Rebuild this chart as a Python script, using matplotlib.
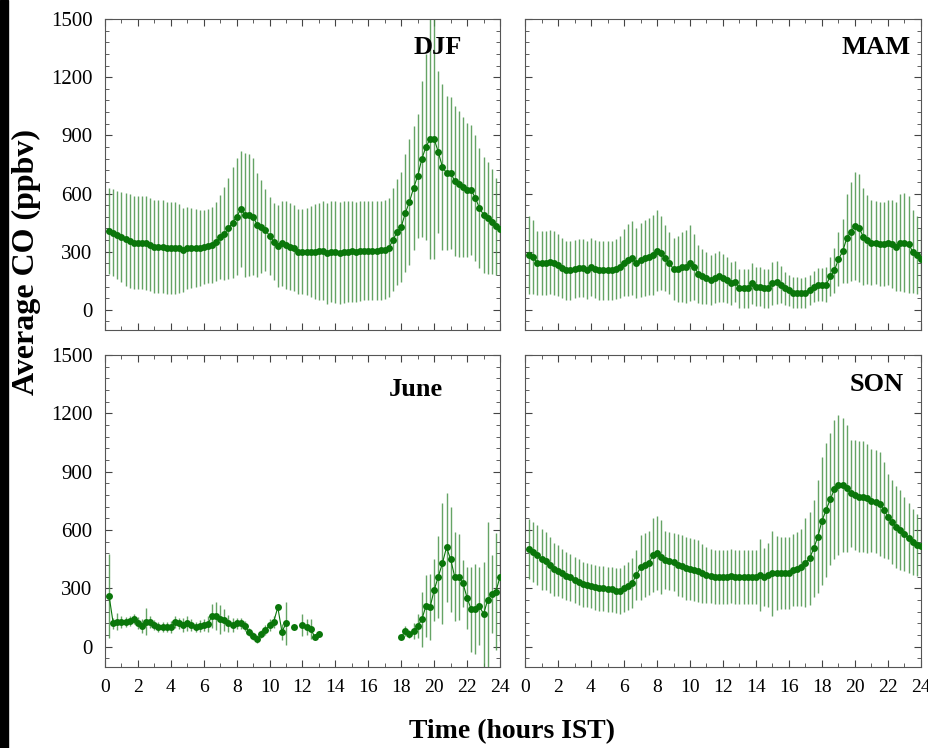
import numpy as np
import matplotlib
matplotlib.use("Agg")
import matplotlib.pyplot as plt
from matplotlib.ticker import MultipleLocator
from matplotlib.patches import Rectangle

nan = np.nan

# time axis: 15-minute steps (hours IST)
hours = np.arange(1, 97) * 0.25

djf_mean = [407, 398, 387, 375, 364, 356, 347, 347, 347, 344, 335, 326,
            326, 326, 318, 318, 318, 318, 309, 318, 318, 318, 318, 323,
            330, 335, 352, 375, 392, 421, 450, 481, 519, 490, 490, 481,
            438, 429, 412, 381, 352, 330, 343, 335, 326, 318, 300, 300,
            300, 300, 300, 302, 305, 292, 300, 298, 292, 298, 300, 302,
            300, 302, 305, 305, 306, 306, 308, 310, 320, 361, 402, 428,
            500, 557, 629, 690, 778, 840, 881, 881, 814, 737, 706, 706,
            665, 649, 634, 618, 618, 577, 526, 490, 474, 454, 430, 416]
djf_sd = [221, 225, 228, 232, 240, 242, 242, 242, 242, 242, 240, 240,
          240, 238, 238, 238, 236, 230, 215, 210, 205, 200, 195, 190,
          190, 195, 205, 215, 240, 260, 285, 300, 300, 320, 315, 300,
          270, 240, 210, 200, 200, 210, 220, 225, 225, 222, 220, 220,
          225, 235, 245, 250, 255, 260, 262, 262, 262, 262, 260, 260,
          258, 258, 255, 255, 255, 255, 255, 255, 255, 265, 275, 285,
          305, 325, 320, 320, 400, 480, 620, 620, 420, 430, 395, 390,
          385, 375, 360, 345, 335, 325, 310, 300, 290, 270, 250, 235]

mam_mean = [283, 271, 241, 241, 241, 249, 241, 232, 215, 203, 203, 210,
            215, 215, 206, 220, 210, 203, 203, 203, 203, 210, 223, 244,
            258, 266, 241, 258, 266, 275, 283, 306, 292, 266, 241, 210,
            210, 220, 223, 241, 223, 186, 172, 163, 155, 163, 172, 163,
            155, 137, 146, 112, 112, 112, 137, 120, 120, 112, 112, 137,
            141, 129, 112, 100, 89, 89, 86, 89, 103, 120, 129, 129,
            129, 172, 203, 261, 301, 369, 404, 433, 421, 378, 361, 347,
            347, 339, 339, 347, 339, 326, 347, 347, 339, 300, 283, 261]
mam_sd = [200, 190, 165, 165, 165, 165, 165, 160, 155, 150, 150, 150,
          150, 150, 150, 150, 150, 150, 150, 150, 150, 155, 160, 175,
          185, 190, 180, 190, 195, 200, 205, 210, 190, 170, 160, 160,
          170, 180, 190, 195, 170, 150, 140, 135, 130, 130, 130, 125,
          120, 110, 105, 100, 100, 100, 105, 100, 100, 100, 100, 110,
          110, 95, 85, 80, 80, 78, 78, 78, 78, 80, 85, 85,
          90, 100, 115, 140, 165, 230, 255, 280, 280, 250, 230, 220,
          215, 215, 215, 220, 225, 230, 250, 255, 250, 215, 200, 160]

june_mean = [261, 120, 129, 129, 129, 134, 141, 123, 106, 129, 129, 112,
             100, 100, 100, 100, 129, 120, 112, 120, 112, 100, 106, 112,
             117, 158, 158, 141, 137, 120, 112, 120, 120, 106, 77, 55,
             38, 65, 86, 112, 129, 203, 77, 120, nan, 100, nan, 112,
             103, 91, 50, 68, nan, nan, nan, nan, nan, nan, nan, nan,
             nan, nan, nan, nan, nan, nan, nan, nan, nan, nan, nan, 51,
             81, 64, 81, 106, 141, 209, 203, 292, 360, 429, 511, 450,
             360, 360, 326, 252, 192, 195, 209, 168, 240, 270, 283, 360]
june_sd = [215, 30, 45, 30, 25, 25, 25, 30, 35, 68, 30, 25,
           25, 25, 25, 30, 30, 30, 35, 40, 30, 25, 30, 30,
           40, 60, 70, 75, 55, 45, 35, 30, 30, 25, 20, 20,
           20, 20, 25, 30, 30, 10, 40, 112, nan, 10, nan, 55,
           40, 50, 15, 15, nan, nan, nan, nan, nan, nan, nan, nan,
           nan, nan, nan, nan, nan, nan, nan, nan, nan, nan, nan, 10,
           25, 20, 40, 60, 140, 160, 170, 160, 210, 310, 280, 270,
           230, 220, 120, 160, 220, 230, 200, 270, 400, 200, 300, 330]

son_mean = [501, 489, 471, 449, 442, 420, 398, 391, 377, 363, 357, 343,
            334, 322, 317, 312, 305, 300, 300, 295, 295, 288, 288, 300,
            312, 329, 369, 408, 420, 429, 471, 483, 463, 446, 441, 437,
            420, 415, 403, 398, 394, 391, 377, 369, 363, 360, 360, 360,
            360, 363, 360, 360, 360, 360, 360, 360, 369, 360, 369, 377,
            381, 381, 377, 381, 394, 398, 408, 432, 454, 506, 566, 648,
            703, 758, 809, 831, 831, 814, 789, 780, 771, 771, 763, 751,
            746, 734, 703, 669, 643, 617, 600, 579, 557, 540, 523, 518]
son_sd = [154, 155, 155, 155, 150, 145, 135, 130, 125, 125, 120, 120,
          118, 116, 115, 115, 115, 115, 115, 115, 115, 115, 118, 120,
          125, 128, 130, 165, 165, 165, 190, 190, 190, 150, 150, 150,
          160, 160, 160, 160, 160, 160, 150, 145, 140, 140, 140, 140,
          140, 140, 140, 140, 140, 140, 140, 140, 184, 150, 165, 220,
          190, 185, 185, 185, 185, 190, 200, 230, 240, 250, 290, 330,
          343, 340, 357, 360, 343, 326, 274, 285, 285, 285, 280, 265,
          265, 265, 248, 220, 215, 210, 205, 190, 180, 170, 160, 150]

panels = [("DJF", djf_mean, djf_sd, (0.843, 0.907)),
          ("MAM", mam_mean, mam_sd, (0.886, 0.907)),
          ("June", june_mean, june_sd, (0.787, 0.888)),
          ("SON", son_mean, son_sd, (0.889, 0.904))]

plt.rcParams['font.family'] = ['Liberation Serif', 'DejaVu Serif']

fig = plt.figure(figsize=(9.29, 7.48), dpi=100)
fig.patches.append(Rectangle((0, 0), 8 / 929, 1, transform=fig.transFigure,
                             color='black', zorder=-1))

boxes = [(105, 19, 395, 311), (525, 19, 396, 311),
         (105, 355, 395, 312), (525, 355, 396, 312)]

for i, (name, mean, sd, lpos) in enumerate(panels):
    x0, y0, w, h = boxes[i]
    ax = fig.add_axes([x0 / 929, 1 - (y0 + h) / 748, w / 929, h / 748])
    ax.errorbar(hours, mean, yerr=sd, fmt='none', ecolor='#4a944a',
                elinewidth=1.0, alpha=0.85, capsize=0, zorder=2)
    ax.plot(hours, mean, '-o', color='#0a760a', lw=0.8, ms=5,
            markeredgewidth=0, zorder=3)
    ax.set_xlim(0, 24)
    ax.set_ylim(-104, 1500)
    ax.xaxis.set_major_locator(MultipleLocator(2))
    ax.xaxis.set_minor_locator(MultipleLocator(1))
    ax.yaxis.set_major_locator(MultipleLocator(300))
    ax.yaxis.set_minor_locator(MultipleLocator(60))
    ax.tick_params(which='both', direction='in', top=True, right=True,
                   color='#444444')
    ax.tick_params(which='major', length=5)
    ax.tick_params(which='minor', length=3)
    ax.tick_params(axis='y', pad=9, labelsize=15)
    ax.tick_params(axis='x', pad=9, labelsize=14)
    for s in ax.spines.values():
        s.set_color('#555555')
    if i < 2:
        ax.tick_params(labelbottom=False)
    if i % 2 == 1:
        ax.tick_params(labelleft=False)
    ax.text(lpos[0], lpos[1], name, transform=ax.transAxes, ha='center',
            va='center', fontsize=19, fontweight='bold')

fig.text(26 / 929, 1 - 262 / 748, 'Average CO (ppbv)', rotation=90,
         ha='center', va='center', fontsize=23, fontweight='bold')
fig.text(512 / 929, 1 - 732 / 748, 'Time (hours IST)', ha='center',
         va='center', fontsize=20, fontweight='bold')

fig.savefig('out.png', dpi=100)
